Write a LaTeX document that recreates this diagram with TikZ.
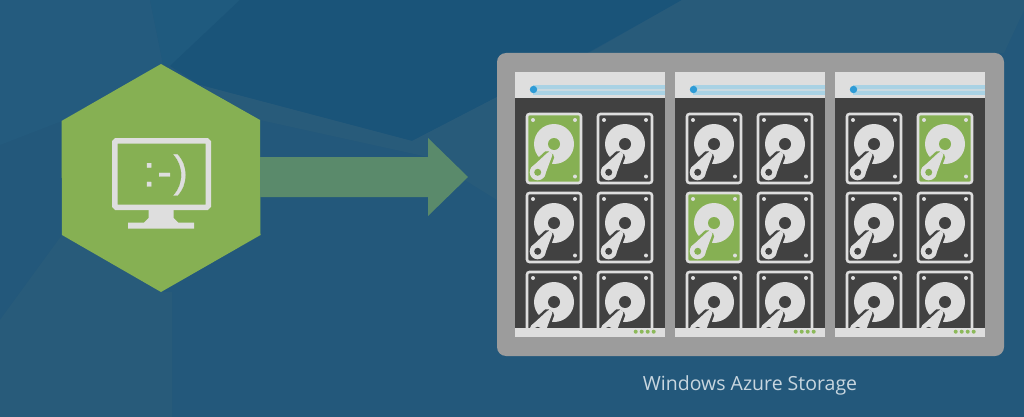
\documentclass[tikz,border=0pt]{standalone}
\usepackage{fontspec}
\setmainfont{Open Sans}
\newfontfamily\smileyfont[FakeBold=0.6]{Liberation Sans}
\definecolor{bgbase}{HTML}{23587B}
\definecolor{bgdark}{HTML}{1A5479}
\definecolor{bgmid}{HTML}{1F5A7E}
\definecolor{bgleft}{HTML}{245B7E}
\definecolor{bglight}{HTML}{285B7A}
\definecolor{hexgreen}{HTML}{86B053}
\definecolor{arrowgreen}{HTML}{5A8A6B}
\definecolor{frame}{HTML}{9C9C9C}
\definecolor{panel}{HTML}{414141}
\definecolor{lightgr}{HTML}{DEDEDE}
\definecolor{barblue}{HTML}{A9D2E4}
\definecolor{dotblue}{HTML}{2E9BD6}
\definecolor{labelc}{HTML}{C8D6DF}
\definecolor{ledgreen}{HTML}{8CB95A}
\tikzset{
  x=1pt,y=-1pt,
  facet/.style={fill=#1,draw=none},
  iconpart/.style={fill=lightgr,draw=none},
  drive/.pic={
    \fill[\drivefill] (1,1) rectangle (55,70);
    \foreach \a/\b in {7/7,49/7,49/63.5}{\fill[lightgr] (\a,\b) circle (2);}
    \fill[lightgr] (28,31) circle (20);
    \fill[\drivefill] (28,31) circle (6);
    \draw[\drivefill,line width=5pt,line join=round] (25.8,43.7) -- (20.8,40.3) -- (5.1,54.8) -- (18.3,63.8) -- cycle;
    \fill[lightgr] (23.3,42) circle (3);
    \fill[\drivefill] (11.7,59.3) circle (10.2);
    \fill[lightgr] (11.7,59.3) circle (8);
    \fill[lightgr] (25.8,43.7) -- (20.8,40.3) -- (5.1,54.8) -- (18.3,63.8) -- cycle;
    \fill[\drivefill] (11.7,59.3) circle (3.5);
    \draw[lightgr,line width=2.6pt,rounded corners=2.5pt] (1,1) rectangle (55,70);
  },
}
\begin{document}
\begin{tikzpicture}
\useasboundingbox (0,0) rectangle (1024,417);
\fill[bgbase] (0,0) rectangle (1024,417);
\fill[facet=bgleft] (0,0) -- (150,0) -- (163,64) -- (62,121) -- (0,145) -- cycle;
\fill[facet=bgmid] (150,0) -- (240,0) -- (170,66) -- (163,64) -- cycle;
\fill[facet=bgdark] (240,0) -- (682,0) -- (589,52) -- (497,97) -- (412,141) -- (200,85) -- (170,66) -- cycle;
\fill[facet=bglight] (682,0) -- (1024,0) -- (1024,10) -- (1004,53) -- (589,53) -- cycle;
\fill[facet=bglight] (200,85) -- (412,141) -- (497,97) -- (497,200) -- (428,157) -- (260,120) -- cycle;
\fill[facet=bglight] (62,235) -- (161,292) -- (172,292) -- (172,417) -- (0,417) -- (0,320) -- cycle;
% hexagon
\fill[hexgreen] (161,64) -- (260,120) -- (260.5,235) -- (161,292) -- (62,235) -- (61.5,121) -- cycle;
% monitor
\node[draw=lightgr,line width=5.5pt,rounded corners=1.5pt,minimum width=93.5pt,minimum height=66.5pt,inner sep=0pt] (screen) at (161.5,174) {};
\fill[iconpart] (148.5,210) -- (173.5,210) -- (173.5,218) -- (178,222.5) -- (194,222.5) -- (194,228.5) -- (128,228.5) -- (128,222.5) -- (144,222.5) -- (148.5,218) -- cycle;
\node[text=lightgr,font=\smileyfont\fontsize{44}{44}\selectfont,inner sep=0pt,anchor=center] (smiley) at (165.5,175) {:\kern2pt-\kern1.5pt)};
% arrow
\fill[arrowgreen] (260,157) -- (428,157) -- (428,138) -- (468,177) -- (428,216) -- (428,197) -- (260,197) -- cycle;
% storage frame
\fill[frame,rounded corners=9pt] (497,53) rectangle (1004,356);
\foreach \px in {515,675,835}{
  \fill[panel] (\px,98) rectangle ++(150,231);
  \fill[lightgr] (\px,72) rectangle ++(150,26);
  \fill[barblue] (\px+18,85) rectangle (\px+150,95);
  \fill[lightgr!60!barblue] (\px+18,89) rectangle (\px+150,91);
  \fill[dotblue] (\px+18.5,89.5) circle (3.7);
  \begin{scope}
    \clip (\px,98) rectangle ++(150,230);
    \foreach \cx in {11,82}{
      \foreach \ry in {113,192,271}{
        \def\drivefill{panel}
        \pgfmathtruncatemacro{\key}{\px+\cx+\ry}
        \ifnum\key=639\def\drivefill{hexgreen}\fi
        \ifnum\key=878\def\drivefill{hexgreen}\fi
        \ifnum\key=1030\def\drivefill{hexgreen}\fi
        \pic at (\px+\cx,\ry) {drive};
      }
    }
  \end{scope}
  \fill[lightgr] (\px,328) rectangle ++(150,9);
  \foreach \d in {0,1,2,3}{\fill[ledgreen] (\px+120.7+\d*6,331.7) circle (2);}
}
\node[text=labelc,font=\fontsize{19.5}{22}\selectfont,inner sep=0pt] (label) at (750,385) {Windows Azure Storage};
\end{tikzpicture}
\end{document}
